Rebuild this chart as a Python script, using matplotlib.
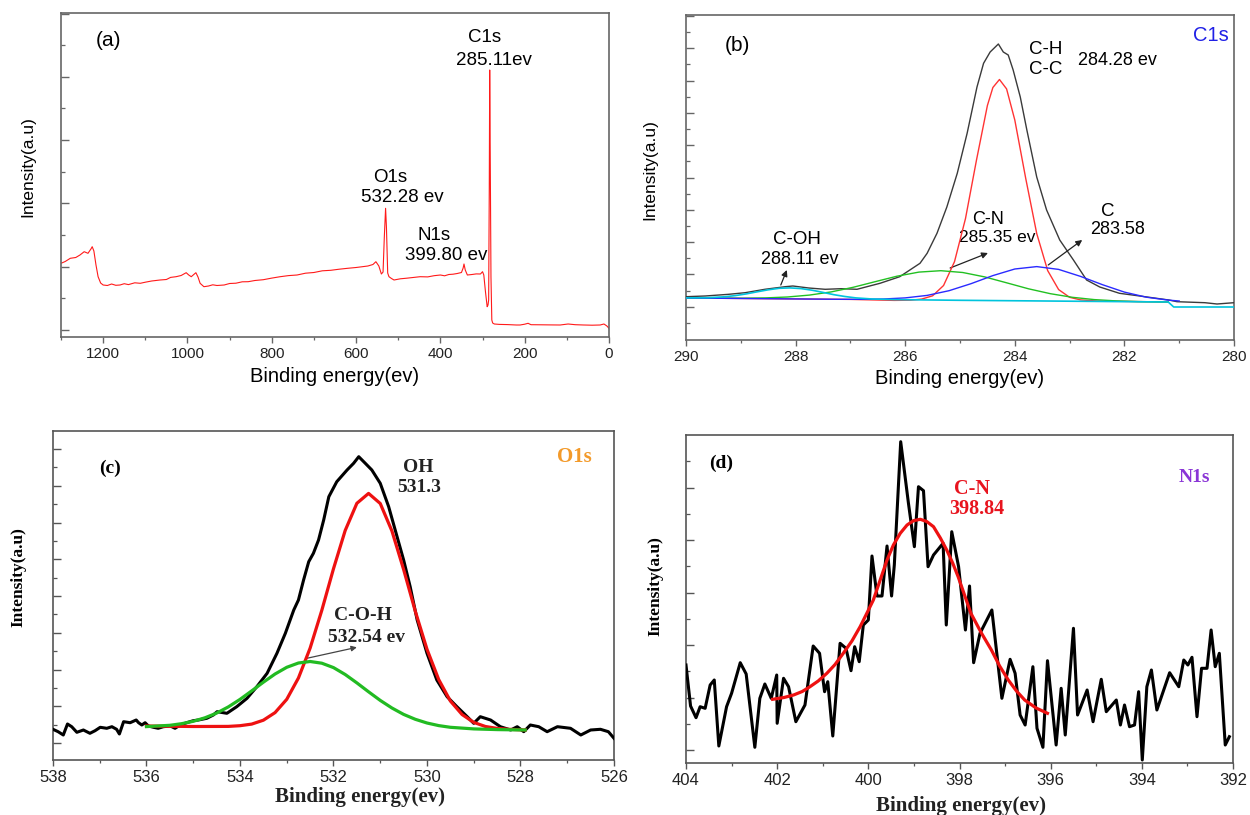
import numpy as np
import matplotlib
matplotlib.use("Agg")
import matplotlib.pyplot as plt
from matplotlib.ticker import MultipleLocator

# ---------------- data (intensity in arbitrary units) ----------------
# (a) survey spectrum
survey_E = [1300, 1290, 1278, 1265, 1255, 1245, 1236, 1229, 1226, 1222, 1217, 1212, 1206, 1200, 1190, 1180,
            1170, 1160, 1150, 1140, 1125, 1112, 1100, 1085, 1065, 1050, 1040, 1027, 1015, 1003, 997, 991,
            985, 980, 975, 970, 961, 950, 940, 930, 913, 900, 885, 870, 856, 840, 820, 800, 780, 760, 740,
            720, 700, 680, 660, 640, 620, 600, 585, 572, 560, 553, 546, 540, 536, 533, 530, 528, 525, 522,
            516, 510, 495, 480, 465, 448, 430, 415, 400, 390, 380, 370, 360, 350, 346, 344, 341, 336, 325,
            315, 305, 300, 297, 293, 289, 287, 285.5, 284, 283, 282, 280, 278, 276, 272, 260, 240, 220,
            211, 200, 192, 185, 160, 140, 116, 97, 80, 60, 40, 21, 12, 5, 0]
survey_I = [73.7, 75.5, 78.7, 79.5, 82, 85.3, 83.7, 88, 90.3, 86, 72, 60.3, 54, 52, 51.5, 53,
            51.7, 52, 53.3, 52.4, 54.2, 53.7, 54.8, 56, 57, 57.5, 59.6, 60.3, 61.5, 64.3, 62, 60.3,
            62.5, 64.3, 60, 53.7, 50.3, 51, 52.2, 51.5, 52, 53.5, 53.8, 55.2, 55.3, 56.5, 57.3, 58.9, 60.3,
            61.4, 62, 63.8, 64.5, 66.2, 66.7, 67.8, 68.7, 69.5, 70.3, 71, 72.5, 75.3, 71, 63, 65, 100,
            128.7, 110, 64, 60.3, 58.5, 57, 58.2, 58.8, 59.5, 60.3, 60.1, 61.3, 62, 61.2, 62.5, 62.8, 63.5,
            64.5, 69, 73, 67, 62, 62.5, 63.1, 63, 65.3, 62, 45, 30.3, 32, 37, 150, 267, 200, 60, 17, 14,
            13, 12.6, 12.4, 12, 12, 12.8, 13.7, 12.3, 12.2, 12.1, 12, 13, 12.3, 12, 11.8, 12, 13, 11, 8.7]

# (b) C1s high-resolution
c1s_E = [290.0, 289.65, 289.22, 288.92, 288.56, 288.19, 288.05, 287.76, 287.46, 287.17, 286.88, 286.46,
         286.1, 285.73, 285.6, 285.42, 285.24, 285.05, 284.87, 284.69, 284.57, 284.45, 284.30, 284.21,
         284.12, 284.03, 283.9, 283.78, 283.6, 283.42, 283.18, 282.93, 282.69, 282.45, 282.09, 281.72,
         281.19, 281.04, 280.53, 280.31, 280.0]
c1s_I = [43.3, 44, 45.7, 47.3, 50.7, 53.3, 54, 52, 50.7, 51.3, 50.7, 56.7,
         63.3, 76.7, 86.7, 106.7, 133, 166.7, 206.7, 253, 276.7, 288, 296, 288,
         285, 270, 243, 210, 163, 130, 100, 80, 60, 53, 46.7, 44,
         40, 38.3, 37.3, 36, 37.3]

cc_E = [290.0, 287.0, 286.2, 285.9, 285.7, 285.5, 285.3, 285.1, 284.9, 284.7, 284.5, 284.4, 284.28,
        284.15, 284.0, 283.8, 283.6, 283.4, 283.2, 283.0, 282.8, 282.5, 281.2]
cc_I = [42.0, 40.6, 39.6, 39.8, 40.9, 44.2, 54.5, 78.4, 121.4, 179.7, 234.5, 252.5, 260.5,
        251.1, 220.0, 161.4, 106.5, 69.4, 50.4, 42.7, 40.1, 39.0, 38.0]

cn_E = [290.0, 289.35, 288.95, 288.55, 288.15, 287.75, 287.35, 286.95, 286.55, 286.15, 285.75, 285.35,
        284.95, 284.55, 284.15, 283.75, 283.35, 282.95, 282.55, 282.15, 281.75, 281.2]
cn_I = [42.0, 41.8, 41.8, 42.1, 43.0, 44.9, 48.1, 52.7, 58.3, 63.8, 67.9, 69.3,
        67.5, 63.1, 57.2, 51.2, 46.3, 42.7, 40.4, 39.1, 38.4, 38.0]

c_E = [290.0, 287.2, 286.8, 286.4, 286.0, 285.6, 285.2, 284.8, 284.4, 284.0, 283.6, 283.2, 282.8,
       282.4, 282.0, 281.6, 281.2, 281.0]
c_I = [42.0, 40.7, 40.7, 41.0, 42.1, 44.6, 49.3, 56.3, 64.4, 71.0, 73.4, 70.6, 63.6,
       55.3, 47.9, 42.8, 39.9, 39.0]

coh_E = [290.0, 289.6, 289.3, 289.1, 288.9, 288.7, 288.5, 288.3, 288.1, 287.9, 287.7, 287.5, 287.3,
         287.1, 286.9, 286.6, 286.2, 285.0, 283.0, 281.2, 281.1, 280.0]
coh_I = [42.1, 42.3, 43.2, 44.4, 46.1, 48.2, 50.2, 51.7, 52.1, 51.4, 49.8, 47.6, 45.3,
         43.5, 42.1, 41.0, 40.4, 39.7, 38.8, 38.0, 33.0, 33.0]

# (c) O1s high-resolution
o1s_E = [538.0, 537.89, 537.78, 537.69, 537.60, 537.49, 537.35, 537.21, 537.10, 536.99, 536.85, 536.74,
         536.64, 536.58, 536.49, 536.35, 536.22, 536.17, 536.10, 536.03, 535.96, 535.85, 535.75, 535.64,
         535.49, 535.39, 535.28, 535.14, 535.00, 534.89, 534.71, 534.57, 534.49, 534.28, 534.07, 533.85,
         533.64, 533.42, 533.21, 533.03, 532.85, 532.75, 532.64, 532.53, 532.43, 532.32, 532.21, 532.10,
         531.93, 531.71, 531.57, 531.46, 531.32, 531.18, 531.00, 530.82, 530.64, 530.50, 530.36, 530.21,
         530.00, 529.79, 529.57, 529.36, 529.14, 529.00, 528.86, 528.64, 528.43, 528.21, 528.07, 527.93,
         527.79, 527.61, 527.43, 527.21, 526.93, 526.71, 526.50, 526.29, 526.12, 526.00]
o1s_I = [30.7, 28.3, 25, 36, 33.3, 27.7, 30, 26.7, 29.3, 32.7, 31.7, 33.3,
         30.7, 26, 38.3, 37.3, 40, 37.3, 35, 37.3, 34, 32.7, 31.7, 33.3,
         34, 31.7, 35, 37.3, 39.3, 40, 41.7, 45, 48.3, 46.7, 53.3, 61.7,
         73.3, 86.7, 106.7, 126.7, 150, 160, 180, 198.3, 206.7, 220, 240, 263.3,
         278.3, 290, 296.7, 303.3, 296.7, 290, 276.7, 253.3, 223.3, 200, 173.3, 140,
         106.7, 80, 63.3, 53.3, 43.3, 36.7, 43.3, 40, 33.3, 30, 33.3, 28.3,
         35, 33.3, 28.3, 33.3, 31.7, 25, 30, 30.7, 28.3, 21.7]

oh_E = [536.0, 535.0, 534.25, 534.0, 533.75, 533.5, 533.25, 533.0, 532.75, 532.5, 532.25, 532.0, 531.75,
        531.5, 531.25, 531.0, 530.75, 530.5, 530.25, 530.0, 529.75, 529.5, 529.25, 529.0, 528.75, 528.5,
        528.25, 527.9]
oh_I = [34.0, 33.5, 33.6, 34.3, 35.9, 39.8, 47.4, 60.7, 82.0, 111.9, 149.7, 191.3, 229.5,
        256.7, 266.6, 256.5, 229.0, 190.5, 148.7, 110.7, 80.5, 59.0, 45.5, 37.6, 33.5, 31.6,
        30.7, 30.0]

coh2_E = [536.0, 535.5, 535.25, 535.0, 534.75, 534.5, 534.25, 534.0, 533.75, 533.5, 533.25, 533.0, 532.75,
          532.5, 532.25, 532.0, 531.75, 531.5, 531.25, 531.0, 530.75, 530.5, 530.25, 530.0, 529.75, 529.5,
          529.0, 528.5, 527.9]
coh2_I = [33.4, 34.7, 36.3, 38.7, 42.2, 46.9, 53.1, 60.6, 69.1, 77.8, 86.0, 92.7, 97.0,
          98.5, 96.8, 92.4, 85.5, 77.1, 68.2, 59.6, 52.0, 45.6, 40.7, 37.0, 34.4, 32.7,
          31.1, 30.4, 30.0]

# (d) N1s high-resolution
n1s_E = [404.00, 403.90, 403.78, 403.69, 403.58, 403.47, 403.38, 403.28, 403.11, 403.00, 402.81, 402.68,
         402.49, 402.38, 402.27, 402.13, 402.01, 402.00, 401.86, 401.75, 401.59, 401.39, 401.21, 401.07,
         400.96, 400.89, 400.78, 400.62, 400.49, 400.38, 400.30, 400.20, 400.11, 400.00, 399.92, 399.81,
         399.70, 399.59, 399.49, 399.43, 399.29, 399.12, 398.99, 398.90, 398.79, 398.69, 398.57, 398.36,
         398.29, 398.17, 398.02, 397.87, 397.78, 397.69, 397.55, 397.29, 397.07, 396.89, 396.78, 396.67,
         396.56, 396.39, 396.30, 396.17, 396.07, 395.88, 395.77, 395.68, 395.50, 395.41, 395.20, 395.07,
         394.89, 394.78, 394.56, 394.47, 394.38, 394.27, 394.16, 394.07, 393.99, 393.89, 393.79, 393.67,
         393.39, 393.19, 393.08, 392.99, 392.90, 392.79, 392.69, 392.57, 392.48, 392.39, 392.30, 392.17,
         392.08]
n1s_I = [98, 57, 45.3, 56.3, 54.7, 78, 83, 17, 56.3, 69.7, 100.3, 89,
         15.7, 64.7, 79, 64.7, 88, 39.7, 84.7, 76.3, 41.3, 58, 117, 109.7,
         71.3, 81.3, 27, 119.7, 114.7, 92.3, 116.3, 101.3, 138, 143, 207, 167,
         167, 217, 167, 198, 321.3, 259.7, 216.3, 276.3, 272.3, 196.3, 208, 219.7,
         138, 231.3, 196.3, 133, 177, 100.3, 129.7, 153, 64.7, 103.7, 89.7, 48,
         38, 96.3, 34.7, 15.7, 102.3, 18, 74.7, 28, 134.7, 48, 73, 41.3,
         83.7, 51.3, 63, 38, 58, 36.3, 38, 71.3, 3, 76.3, 93, 53,
         90.3, 76.3, 103, 98, 105.7, 46.3, 94.7, 94.7, 133, 96.3, 109.7, 18,
         26.3]

cn2_E = [402.10, 401.85, 401.64, 401.45, 401.28, 401.10, 400.91, 400.73, 400.55, 400.36, 400.18, 400.03,
         399.89, 399.74, 399.59, 399.45, 399.30, 399.15, 399.01, 398.86, 398.72, 398.57, 398.42, 398.28,
         398.15, 398.03, 397.89, 397.75, 397.52, 397.30, 397.12, 396.93, 396.75, 396.57, 396.32, 396.07]
cn2_I = [63.7, 65.5, 68, 71.5, 76.3, 82, 89.7, 98.5, 109.7, 122, 136.3, 150,
         163, 183, 203, 218, 229.7, 238, 242.3, 243.7, 241.5, 236.3, 225, 213,
         200, 186.3, 168, 149.7, 130, 113, 97, 83, 72, 63, 55, 49.7]

# ---------------- figure ----------------
W, H = 1250, 815
plt.rcParams['font.family'] = ["Liberation Sans", "DejaVu Sans"]
SERIF = ["Liberation Serif", "DejaVu Serif"]

fig = plt.figure(figsize=(W / 100, H / 100), dpi=100)


def axes_px(l, t, r, b):
    return fig.add_axes([l / W, 1 - b / H, (r - l) / W, (b - t) / H])


def ftext(x, y, s, **kw):
    fig.text(x / W, 1 - y / H, s, ha='center', va='center', **kw)


def style(ax, xlim, ylim, ymaj0, ystep, spine_col, lab_size, lab_pad):
    ax.set_xlim(*xlim)
    ax.set_ylim(*ylim)
    wide = abs(xlim[0] - xlim[1]) > 50
    ax.xaxis.set_major_locator(MultipleLocator(200 if wide else 2))
    ax.xaxis.set_minor_locator(MultipleLocator(100 if wide else 1))
    ax.set_yticks(np.arange(ymaj0, ylim[1], ystep))
    mins = np.arange(ymaj0 - ystep / 2, ylim[1], ystep)
    ax.set_yticks(mins[mins > 0], minor=True)
    for s in ax.spines.values():
        s.set_color(spine_col)
        s.set_linewidth(1.2)
    ax.tick_params(axis='x', which='major', direction='out', length=4.5, width=1.0,
                   color=spine_col, labelsize=lab_size, pad=lab_pad, labelcolor='#222222')
    ax.tick_params(axis='x', which='minor', direction='out', length=2.5, width=0.9, color=spine_col)
    ax.tick_params(axis='y', which='major', direction='in', length=5.5, width=1.0,
                   color=spine_col, labelleft=False)
    ax.tick_params(axis='y', which='minor', direction='in', length=3, width=0.9, color=spine_col)


# ---- (a) survey ----
axa = axes_px(61, 13, 609, 337)
style(axa, (1300, 0), (0, 324), 7, 63.3, '#666666', 11, 2.5)
axa.plot(survey_E, survey_I, color='#ff1a1a', lw=0.8)
axa.text(1188, 297, '(a)', fontsize=15, ha='center', va='center')
axa.text(296, 300, 'C1s', fontsize=13.5, ha='center', va='center')
axa.text(273, 277, '285.11ev', fontsize=13.5, ha='center', va='center')
axa.text(519, 160, 'O1s', fontsize=13.5, ha='center', va='center')
axa.text(491, 140, '532.28 ev', fontsize=13.5, ha='center', va='center')
axa.text(415, 102, 'N1s', fontsize=13.5, ha='center', va='center')
axa.text(387, 82, '399.80 ev', fontsize=13.5, ha='center', va='center')
ftext(335, 376, 'Binding energy(ev)', fontsize=14.5)
ftext(28, 167, 'Intensity(a.u)', fontsize=12.5, rotation=90)

# ---- (b) C1s ----
axb = axes_px(686, 15, 1234, 340)
style(axb, (290, 280), (0, 325), 33.3, 32.3, '#666666', 11, 2.5)
axb.plot(c1s_E, c1s_I, color='#3a3a3a', lw=1.0, zorder=3)
axb.plot(cc_E, cc_I, color='#ff3333', lw=1.0, zorder=4)
axb.plot(cn_E, cn_I, color='#22c022', lw=1.0, zorder=4)
axb.plot(c_E, c_I, color='#2a2aff', lw=1.0, zorder=4)
axb.plot(coh_E, coh_I, color='#00c4dd', lw=1.2, zorder=5)
axb.text(289.07, 295, '(b)', fontsize=15, ha='center', va='center')
axb.text(280.1, 305, 'C1s', fontsize=14.5, color='#2020e6', ha='right', va='center')
axb.text(283.43, 291, 'C-H', fontsize=13.5, ha='center', va='center')
axb.text(283.43, 271, 'C-C', fontsize=13.5, ha='center', va='center')
axb.text(282.85, 280, '284.28 ev', fontsize=13, ha='left', va='center')
axb.text(284.49, 121, 'C-N', fontsize=13, ha='center', va='center')
axb.text(284.32, 102, '285.35 ev', fontsize=12.5, ha='center', va='center')
axb.text(282.30, 128, 'C', fontsize=13.5, ha='center', va='center')
axb.text(282.12, 110, '283.58', fontsize=13, ha='center', va='center')
axb.text(287.97, 101, 'C-OH', fontsize=13.5, ha='center', va='center')
axb.text(287.92, 80, '288.11 ev', fontsize=13, ha='center', va='center')
arrow_kw = dict(arrowstyle='-|>', color='#222222', lw=0.9, mutation_scale=9, shrinkA=0, shrinkB=0)
axb.annotate('', xy=(288.16, 70), xytext=(288.27, 55), arrowprops=arrow_kw)
axb.annotate('', xy=(284.49, 87), xytext=(285.18, 72), arrowprops=arrow_kw)
axb.annotate('', xy=(282.77, 100), xytext=(283.39, 75), arrowprops=arrow_kw)
ftext(960, 378, 'Binding energy(ev)', fontsize=14.5)
ftext(650, 170, 'Intensity(a.u)', fontsize=12.5, rotation=90)

# ---- (c) O1s ----
axc = axes_px(53, 431, 614, 760)
style(axc, (538, 526), (0, 329), 17, 36.75, '#555555', 12, 3)
axc.plot(o1s_E, o1s_I, color='black', lw=2.2, zorder=3)
axc.plot(oh_E, oh_I, color='#ee1111', lw=2.3, zorder=4)
axc.plot(coh2_E, coh2_I, color='#22bb22', lw=2.3, zorder=5)
bold_serif = dict(family=SERIF, fontweight='bold', ha='center', va='center')
axc.text(536.78, 292, '(c)', fontsize=14, **bold_serif)
axc.text(530.18, 292, 'OH', fontsize=14, color='#222222', **bold_serif)
axc.text(530.16, 272, '531.3', fontsize=14, color='#222222', **bold_serif)
axc.text(526.84, 303, 'O1s', fontsize=15, color='#f39a2a', **bold_serif)
axc.text(531.38, 145, 'C-O-H', fontsize=14, color='#222222', **bold_serif)
axc.text(531.30, 123, '532.54 ev', fontsize=14, color='#222222', **bold_serif)
axc.annotate('', xy=(531.5, 112.7), xytext=(532.57, 101.7),
             arrowprops=dict(arrowstyle='-|>', color='#444444', lw=0.9, mutation_scale=8,
                             shrinkA=0, shrinkB=0))
ftext(360, 797, 'Binding energy(ev)', fontsize=15, family=SERIF, fontweight='bold', color='#222222')
ftext(18, 577, 'Intensity(a.u)', fontsize=12.5, family=SERIF, fontweight='bold', rotation=90)

# ---- (d) N1s ----
axd = axes_px(686, 435, 1233, 763)
style(axd, (404, 392), (0, 328), 13, 52.5, '#555555', 12, 3)
axd.plot(n1s_E, n1s_I, color='black', lw=2.2, zorder=3)
axd.plot(cn2_E, cn2_I, color='#ee1111', lw=2.3, zorder=4)
axd.text(403.22, 299.7, '(d)', fontsize=14, **bold_serif)
axd.text(397.73, 273.7, 'C-N', fontsize=14.5, color='#e8141e', **bold_serif)
axd.text(397.63, 253.7, '398.84', fontsize=14.5, color='#e8141e', **bold_serif)
axd.text(392.85, 285.7, 'N1s', fontsize=14, color='#8a35d6', **bold_serif)
ftext(961, 806, 'Binding energy(ev)', fontsize=15, family=SERIF, fontweight='bold', color='#222222')
ftext(655, 586, 'Intensity(a.u)', fontsize=12.5, family=SERIF, fontweight='bold', rotation=90)

fig.savefig('out.png', dpi=100)
